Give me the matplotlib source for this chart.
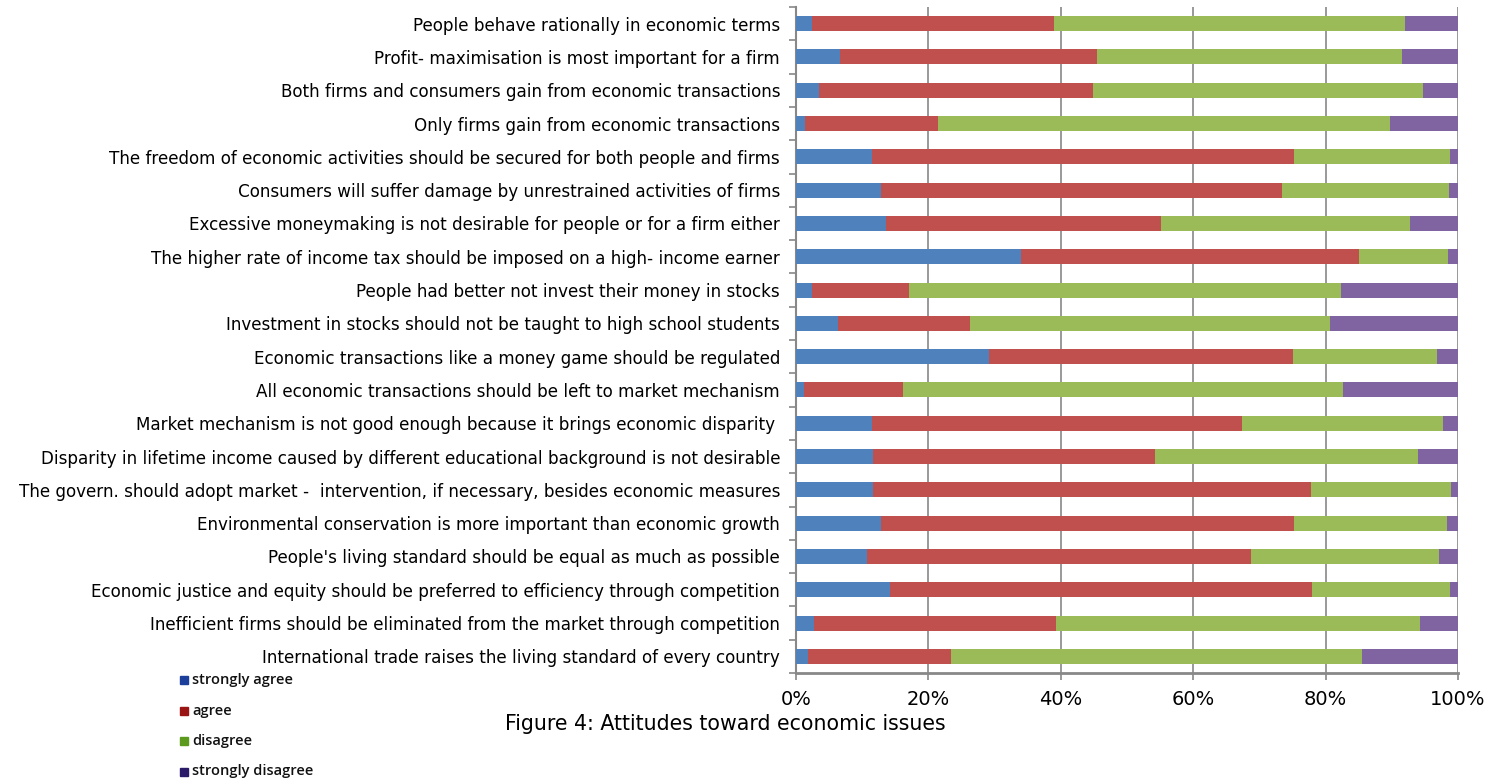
import matplotlib.pyplot as plt
import matplotlib.patches as mpatches
import numpy as np

# statements, top to bottom as in the figure
statements = [
    "People behave rationally in economic terms",
    "Profit- maximisation is most important for a firm",
    "Both firms and consumers gain from economic transactions",
    "Only firms gain from economic transactions",
    "The freedom of economic activities should be secured for both people and firms",
    "Consumers will suffer damage by unrestrained activities of firms",
    "Excessive moneymaking is not desirable for people or for a firm either",
    "The higher rate of income tax should be imposed on a high- income earner",
    "People had better not invest their money in stocks",
    "Investment in stocks should not be taught to high school students",
    "Economic transactions like a money game should be regulated",
    "All economic transactions should be left to market mechanism",
    "Market mechanism is not good enough because it brings economic disparity ",
    "Disparity in lifetime income caused by different educational background is not desirable",
    "The govern. should adopt market -  intervention, if necessary, besides economic measures",
    "Environmental conservation is more important than economic growth",
    "People's living standard should be equal as much as possible",
    "Economic justice and equity should be preferred to efficiency through competition",
    "Inefficient firms should be eliminated from the market through competition",
    "International trade raises the living standard of every country",
]

# shares in percent
strongly_agree = [2.4, 6.7, 3.4, 1.4, 11.5, 12.8, 13.6, 34.0, 2.4, 6.4,
                  29.1, 1.2, 11.5, 11.7, 11.6, 12.8, 10.7, 14.2, 2.7, 1.8]
agree = [36.6, 38.8, 41.5, 20.1, 63.8, 60.6, 41.6, 51.0, 14.7, 19.9,
         45.9, 14.9, 55.8, 42.6, 66.2, 62.4, 58.1, 63.7, 36.5, 21.6]
disagree = [53.0, 46.1, 49.8, 68.3, 23.5, 25.2, 37.5, 13.5, 65.2, 54.4,
            21.9, 66.5, 30.5, 39.6, 21.2, 23.2, 28.4, 20.9, 55.0, 62.1]
strongly_disagree = [8.0, 8.4, 5.3, 10.2, 1.2, 1.4, 7.3, 1.5, 17.7, 19.3,
                     3.1, 17.4, 2.2, 6.1, 1.0, 1.6, 2.8, 1.2, 5.8, 14.5]

series = [strongly_agree, agree, disagree, strongly_disagree]
bar_colors = ['#4F81BD', '#C0504D', '#9BBB59', '#8064A2']
legend_labels = ['strongly agree', 'agree', 'disagree', 'strongly disagree']
legend_colors = ['#1c3f9c', '#9a1414', '#5b9a1c', '#2b1a6a']

fig = plt.figure(figsize=(15.01, 7.8), dpi=100)
ax = fig.add_axes([796 / 1501, 1 - 673 / 780, 662 / 1501, 666 / 780])

y = np.arange(len(statements))
left = np.zeros(len(statements))
for vals, col in zip(series, bar_colors):
    vals = np.array(vals)
    ax.barh(y, vals, left=left, height=0.45, color=col, zorder=3)
    left += vals

ax.set_xlim(0, 100)
ax.set_ylim(len(statements) - 0.5, -0.5)
ax.set_xticks(np.arange(0, 101, 20))
ax.set_xticklabels([f'{v}%' for v in range(0, 101, 20)], fontsize=14)
ax.set_yticks(y)
ax.set_yticklabels(statements, fontsize=12.1)
ax.set_yticks(np.arange(-0.5, len(statements), 1), minor=True)
ax.tick_params(axis='y', which='major', length=0, pad=11.5)
ax.tick_params(axis='y', which='minor', length=5, color='#888888', width=1.2)
ax.tick_params(axis='x', length=5, color='#888888', width=1.2, pad=7)
ax.grid(axis='x', color='#888888', linewidth=1.2, zorder=0)

for s in ['top', 'right']:
    ax.spines[s].set_visible(False)
ax.spines['left'].set_color('#888888')
ax.spines['left'].set_linewidth(1.5)
ax.spines['bottom'].set_color('#888888')
ax.spines['bottom'].set_linewidth(2)

fig.text(725 / 1501, 1 - 724 / 780, 'Figure 4: Attitudes toward economic issues',
         fontsize=14.8, ha='center', va='center')

# pasted legend in the lower left
for i, (lab, col) in enumerate(zip(legend_labels, legend_colors)):
    yc = 1 - (680 + i * 30.5) / 780
    fig.patches.append(mpatches.Rectangle((180 / 1501, yc - 4 / 780), 8 / 1501, 8 / 780,
                                          transform=fig.transFigure, color=col))
    fig.text(192 / 1501, yc, lab, fontsize=10.5, family='Open Sans', weight='semibold',
             ha='left', va='center', color='#111111')

fig.savefig('out.png', dpi=100)
